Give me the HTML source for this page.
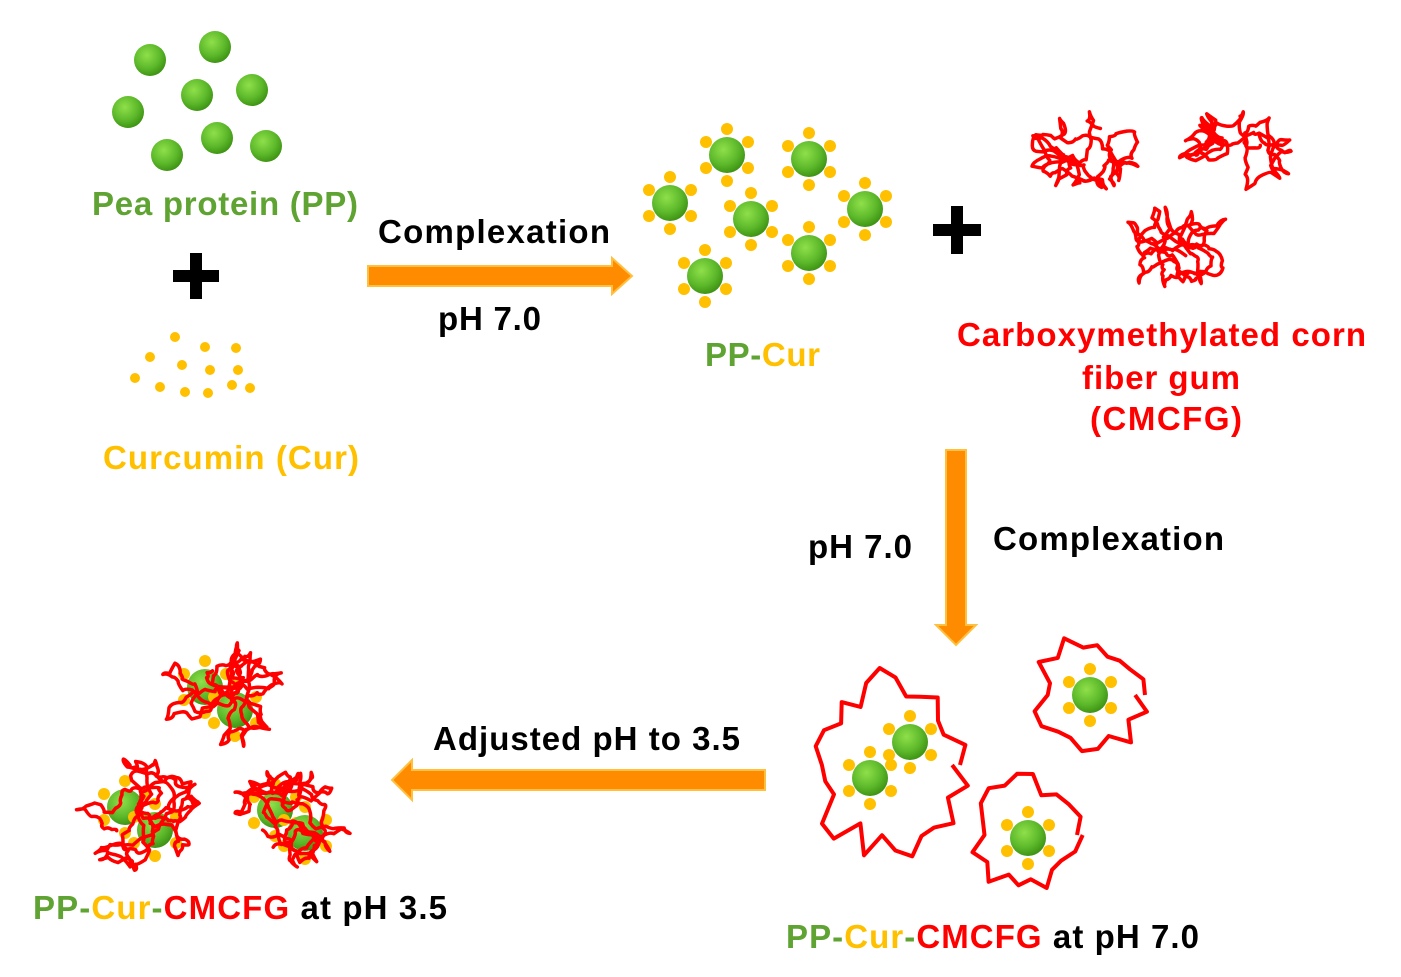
<!DOCTYPE html>
<html><head><meta charset="utf-8"><style>
html,body{margin:0;padding:0;background:#fff;}
svg{display:block}
text{font-family:"Liberation Sans",Arial,sans-serif;font-weight:bold;font-size:33px;}
</style></head><body>
<svg id="s" width="1401" height="977" viewBox="0 0 1401 977" xmlns="http://www.w3.org/2000/svg">
<defs>
<radialGradient id="g" cx="0.4" cy="0.35" r="0.7">
<stop offset="0" stop-color="#8fe04a"/><stop offset="0.6" stop-color="#5cb82a"/><stop offset="1" stop-color="#3a8e10"/>
</radialGradient>
<g id="pc">
<circle cx="0" cy="-26" r="6" fill="#ffc000"/><circle cx="0" cy="26" r="6" fill="#ffc000"/>
<circle cx="-21" cy="-13" r="6" fill="#ffc000"/><circle cx="21" cy="-13" r="6" fill="#ffc000"/>
<circle cx="-21" cy="13" r="6" fill="#ffc000"/><circle cx="21" cy="13" r="6" fill="#ffc000"/>
<circle r="18" fill="url(#g)"/>
</g>
</defs>
<g id="pp"></g>
<g id="red" fill="none" stroke="#ff0000" stroke-width="4" stroke-linejoin="round"></g>
<g id="fg" fill="none"></g>
<rect x="173" y="270" width="46" height="12" fill="#000"/><rect x="190" y="253" width="12" height="46" fill="#000"/>
<rect x="933" y="224" width="48" height="12" fill="#000"/><rect x="951" y="206" width="12" height="48" fill="#000"/>
<path d="M368 266 H612 V258 L632 276 L612 294 V286 H368 Z" fill="#ff8c00" stroke="#ffc040" stroke-width="2"/>
<path d="M946 450 H966 V625 H976 L956 645 L936 625 H946 Z" fill="#ff8c00" stroke="#ffc040" stroke-width="2"/>
<path d="M765 770 H412 V760 L392 780 L412 800 V790 H765 Z" fill="#ff8c00" stroke="#ffc040" stroke-width="2"/>
<text x="225" y="215" text-anchor="middle" fill="#5fa332" textLength="266">Pea protein (PP)</text>
<text x="231" y="469" text-anchor="middle" fill="#ffc000" textLength="256">Curcumin (Cur)</text>
<text x="378" y="243" fill="#000" textLength="232">Complexation</text>
<text x="438" y="330" fill="#000" textLength="103">pH 7.0</text>
<text x="705" y="366" fill="#5fa332" textLength="115">PP-<tspan fill="#ffc000">Cur</tspan></text>
<text x="957" y="346" fill="#ff0000" textLength="409">Carboxymethylated corn</text>
<text x="1161" y="389" text-anchor="middle" fill="#ff0000" textLength="158">fiber gum</text>
<text x="1166" y="430" text-anchor="middle" fill="#ff0000" textLength="152">(CMCFG)</text>
<text x="808" y="558" fill="#000" textLength="104">pH 7.0</text>
<text x="993" y="550" fill="#000" textLength="231">Complexation</text>
<text x="433" y="750" fill="#000" textLength="307">Adjusted pH to 3.5</text>
<text x="33" y="919" fill="#5fa332" textLength="414">PP-<tspan fill="#ffc000">Cur</tspan>-<tspan fill="#ff0000">CMCFG</tspan><tspan fill="#000"> at pH 3.5</tspan></text>
<text x="786" y="948" fill="#5fa332" textLength="413">PP-<tspan fill="#ffc000">Cur</tspan>-<tspan fill="#ff0000">CMCFG</tspan><tspan fill="#000"> at pH 7.0</tspan></text>
</svg>
<script>
var NS="http://www.w3.org/2000/svg";
function el(p,t,a){var e=document.createElementNS(NS,t);for(var k in a)e.setAttribute(k,a[k]);document.getElementById(p).appendChild(e);return e;}
var seed=11;function r(){seed=(seed*16807)%2147483647;return (seed-1)/2147483646;}
[[150,60],[215,47],[128,112],[197,95],[252,90],[167,155],[217,138],[266,146]].forEach(function(p){el("pp","circle",{cx:p[0],cy:p[1],r:16,fill:"url(#g)"});});
[[175,337],[150,357],[205,347],[236,348],[182,365],[210,370],[135,378],[160,387],[185,392],[208,393],[232,385],[250,388],[238,370]].forEach(function(p){el("pp","circle",{cx:p[0],cy:p[1],r:5,fill:"#ffc000"});});
[[727,155],[809,159],[670,203],[751,219],[865,209],[809,253],[705,276]].forEach(function(p){el("pp","use",{href:"#pc",transform:"translate("+p[0]+","+p[1]+")"});});
function scrib(cx,cy,rx,ry,n,g,w){var x=cx+(r()-0.5)*rx,y=cy+(r()-0.5)*ry,a=r()*6.28,d="M"+x.toFixed(1)+" "+y.toFixed(1);
 for(var i=0;i<n;i++){
  var ex=(x-cx)/rx,ey=(y-cy)/ry;
  if(ex*ex+ey*ey>0.8){var ta=Math.atan2(cy-y,cx-x);a=ta+(r()-0.5)*1.2;} else a+=(r()-0.5)*2.4;
  var s=5+r()*7;var nx=x+Math.cos(a)*s,ny=y+Math.sin(a)*s;
  var mx=(x+nx)/2+(r()-0.5)*7,my=(y+ny)/2+(r()-0.5)*7;
  d+=" Q"+mx.toFixed(1)+" "+my.toFixed(1)+" "+nx.toFixed(1)+" "+ny.toFixed(1);x=nx;y=ny;}
 el(g||"red","path",{d:d,fill:"none",stroke:"#ff0000","stroke-width":w||3.5,"stroke-linejoin":"round","stroke-linecap":"round"});}
function outline(cx,cy,rx,ry,n,w){var d="";for(var i=0;i<=n;i++){var a=i/n*Math.PI*2;var f=(i==n)?1:0.75+r()*0.4;var x=cx+Math.cos(a)*rx*f,y=cy+Math.sin(a)*ry*f;d+=(i?"L":"M")+x.toFixed(1)+" "+y.toFixed(1)+" ";}el("fg","path",{d:d,fill:"none",stroke:"#ff0000","stroke-width":w||4,"stroke-linejoin":"round"});}
scrib(1087,150,62,38,110);scrib(1238,150,56,42,110);scrib(1172,248,72,38,130);
outline(888,765,72,88,30);outline(1090,695,55,55,22);outline(1025,835,52,58,22);
[[870,778],[910,742],[1090,695],[1028,838]].forEach(function(p){el("fg","use",{href:"#pc",transform:"translate("+p[0]+","+p[1]+")"});});
[[220,695,66,52],[140,815,64,58],[290,818,60,50]].forEach(function(c){
 el("pp","use",{href:"#pc",transform:"translate("+(c[0]-15)+","+(c[1]-8)+")"});
 el("pp","use",{href:"#pc",transform:"translate("+(c[0]+15)+","+(c[1]+15)+")"});
 scrib(c[0],c[1],c[2],c[3],160,"fg",3.5);
});
</script>
</body></html>
